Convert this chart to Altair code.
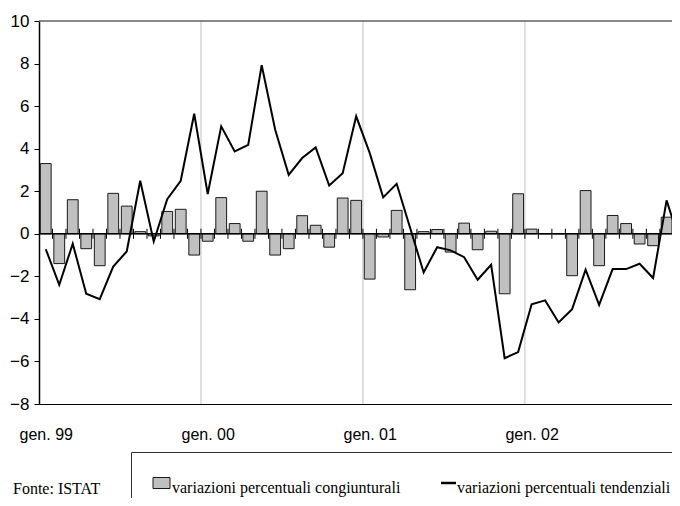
import altair as alt
import pandas as pd

# monthly data, gen. 1999 - dic. 2002
congiunturali = [3.3, -1.4, 1.6, -0.7, -1.5, 1.9, 1.3, 0.1, -0.1, 1.05, 1.15, -1.0,
                 -0.35, 1.7, 0.48, -0.35, 2.0, -1.0, -0.7, 0.85, 0.4, -0.63, 1.68, 1.57,
                 -2.13, -0.15, 1.1, -2.63, 0.1, 0.2, -0.86, 0.5, -0.75, 0.12, -2.82, 1.88,
                 0.22, 0.0, 0.0, -1.97, 2.03, -1.5, 0.86, 0.48, -0.48, -0.56, 0.78, -0.47]
tendenziali = [-0.72, -2.4, -0.47, -2.82, -3.07, -1.54, -0.83, 2.49, -0.36, 1.63, 2.49, 5.64,
               1.87, 5.05, 3.87, 4.18, 7.92, 4.89, 2.77, 3.56, 4.06, 2.27, 2.85, 5.52,
               3.8, 1.71, 2.35, 0.27, -1.82, -0.63, -0.78, -1.1, -2.16, -1.46, -5.85, -5.56,
               -3.31, -3.13, -4.17, -3.54, -1.69, -3.34, -1.66, -1.66, -1.41, -2.08, 1.57, -0.42]
tick_labels = ["gen. 99", "gen. 00", "gen. 01", "gen. 02"]
y_ticks = [-8, -6, -4, -2, 0, 2, 4, 6, 8, 10]
legend_labels = ["variazioni percentuali congiunturali", "variazioni percentuali tendenziali"]
source_note = ["Fonte: ISTAT"]

n = len(congiunturali)
df = pd.DataFrame({"idx": list(range(n)), "cong": congiunturali, "tend": tendenziali})
bounds = pd.DataFrame({"b": [i + 0.5 for i in range(n - 1)]})
years = pd.DataFrame({"b": [12 * k - 0.5 for k in range(1, len(tick_labels))]})

W, H = 633, 383
xscale = alt.Scale(domain=[-0.5, 46.4], nice=False, zero=False)
yscale = alt.Scale(domain=[y_ticks[0], y_ticks[-1]], nice=False, zero=False)

label_expr = "[" + ",".join("'" + t + "'" for t in tick_labels) + "][round(datum.value/12)]"

xaxis = alt.Axis(values=[12 * k for k in range(len(tick_labels))], labelExpr=label_expr,
                 ticks=False, grid=False, domain=True, domainColor="#000000", domainWidth=1,
                 labelFont="Liberation Sans", labelFontSize=16, labelColor="#000000",
                 labelPadding=35, labelBaseline="alphabetic", labelFlush=False,
                 labelOverlap=False, title=None)
yaxis = alt.Axis(values=y_ticks, ticks=True, tickSize=5, tickColor="#000000", tickWidth=1,
                 domain=True, domainColor="#000000", domainWidth=1.5, grid=False,
                 labelFont="Liberation Sans", labelFontSize=17, labelColor="#000000",
                 labelPadding=5, labelOverlap=False, title=None)

grid = alt.Chart(years).mark_rule(color="#cccccc", strokeWidth=1.2).encode(
    x=alt.X("b:Q", scale=xscale, axis=xaxis))

bars = alt.Chart(df).transform_calculate(
    x0="datum.idx - 0.4", x1="datum.idx + 0.4"
).mark_bar(fill="#c0c0c0", stroke="#1a1a1a", strokeWidth=1, clip=True).encode(
    x=alt.X("x0:Q", scale=xscale, axis=xaxis),
    x2="x1:Q",
    y=alt.Y("cong:Q", scale=yscale, axis=yaxis),
    y2=alt.datum(0),
)

zero = alt.Chart(df).transform_filter("datum.idx == 0").transform_calculate(z="0").mark_rule(
    color="#000000", strokeWidth=1.5).encode(
    y=alt.Y("z:Q", scale=yscale, axis=yaxis))

ticks = alt.Chart(bounds).transform_calculate(z="0").mark_tick(
    orient="vertical", size=10, thickness=1, color="#000000", opacity=1, clip=True).encode(
    x=alt.X("b:Q", scale=xscale, axis=xaxis),
    y=alt.Y("z:Q", scale=yscale, axis=yaxis),
)

line = alt.Chart(df).mark_line(color="#000000", strokeWidth=2, clip=True).encode(
    x=alt.X("idx:Q", scale=xscale, axis=xaxis),
    y=alt.Y("tend:Q", scale=yscale, axis=yaxis),
)

top = alt.Chart(df).transform_filter("datum.idx == 0").transform_calculate(
    t=str(y_ticks[-1])).mark_rule(color="#606060", strokeWidth=1.5).encode(
    y=alt.Y("t:Q", scale=yscale, axis=yaxis))

# legend box and source note (pixel layout)
leg_df = pd.DataFrame({"label": legend_labels})
f0 = "datum.label == '%s'" % legend_labels[0]
f1 = "datum.label == '%s'" % legend_labels[1]
box = alt.Chart(leg_df).transform_filter(f0).mark_rect(
    filled=False, stroke="#333333", strokeWidth=1).encode(
    x=alt.value(92.5), x2=alt.value(700), y=alt.value(431.5), y2=alt.value(600))
swatch = alt.Chart(leg_df).transform_filter(f0).mark_rect(
    fill="#c0c0c0", stroke="#1a1a1a", strokeWidth=1).encode(
    x=alt.value(114), x2=alt.value(131), y=alt.value(456.5), y2=alt.value(467.5))
legsym = alt.Chart(leg_df).transform_filter(f1).mark_rule(
    color="#000000", strokeWidth=2.5).encode(
    x=alt.value(402), x2=alt.value(417), y=alt.value(462))
t1 = alt.Chart(leg_df).transform_filter(f0).mark_text(
    align="left", baseline="alphabetic", font="Liberation Serif", fontSize=16, color="#000000").encode(
    x=alt.value(133), y=alt.value(472), text="label:N")
t2 = alt.Chart(leg_df).transform_filter(f1).mark_text(
    align="left", baseline="alphabetic", font="Liberation Serif", fontSize=16, color="#000000").encode(
    x=alt.value(418), y=alt.value(472), text="label:N")
src = alt.Chart(pd.DataFrame({"label": source_note})).mark_text(
    align="left", baseline="alphabetic", font="Liberation Serif", fontSize=16, color="#000000").encode(
    x=alt.value(-26), y=alt.value(473), text="label:N")

chart = alt.layer(grid, bars, zero, ticks, line, top, box, swatch, legsym, t1, t2, src).properties(
    width=W, height=H,
    padding={"left": 31, "top": 13, "right": 0, "bottom": 94},
    autosize=alt.AutoSizeParams(type="none"),
    background="#ffffff",
).configure_view(stroke=None)

chart.save("out.html", embed_options={"renderer": "svg", "actions": False})
